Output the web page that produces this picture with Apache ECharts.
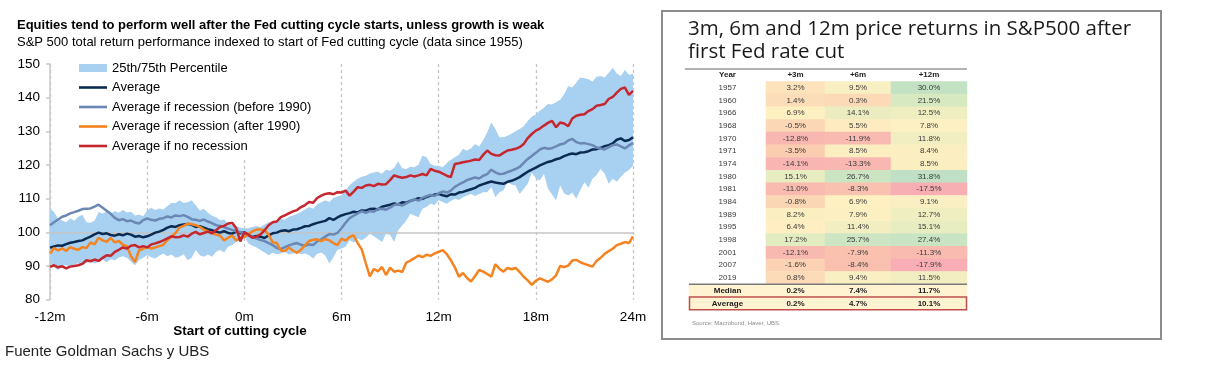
<!DOCTYPE html>
<html><head><meta charset="utf-8">
<script src="https://cdn.jsdelivr.net/npm/echarts@6/dist/echarts.min.js"></script>
<style>html,body{margin:0;padding:0;background:#fff}#c{width:1212px;height:370px}</style>
</head><body><div id="c"></div>
<script>
// ---------- Left chart data ----------
const MONTH_START = -12, MONTH_END = 24, MONTH_STEP = 0.25;
const X_TICKS = [-12, -6, 0, 6, 12, 18, 24];
const Y_MIN = 80, Y_MAX = 150, Y_STEP = 10;
const BASELINE = 100;

const BAND_LOW = [
 91.2,89.7,88.8,89.9, 90.3,89.5,90.4,90.8, 90.3,90.9,91.4,90.7, 91.2,91.9,91.1,92.0,
 91.7,92.5,92.9,92.4, 91.3,90.2,91.8,92.4, 93.2,92.6,92.2,93.0, 93.7,92.9,93.4,92.4,
 92.7,93.5,91.7,92.4, 94.7,93.2,92.7,93.4, 92.7,94.2,94.7,94.0, 95.7,96.2,97.1,97.6,
 98.8,96.7,96.0,95.5, 94.7,94.0,93.2,93.9, 93.5,93.7,94.2,93.4, 93.7,94.1,93.5,93.7,
 93.2,92.2,93.6,94.0, 93.1,90.7,92.6,94.7, 95.2,95.7,97.6,97.0, 98.1,97.6,98.4,99.6,
 98.8,98.0,97.1,99.6, 99.2,97.1,100.6,102.0, 103.5,105.5,105.0,104.5, 107.0,107.5,108.5,108.1,
 109.5,109.0,108.5,109.3, 110.0,109.6,110.4,110.9, 111.4,110.8,111.4,111.9, 111.9,113.4,110.4,111.9,
 112.4,114.9,114.2,113.9, 111.4,112.9,114.4,117.8, 116.0,115.4,117.4,112.9, 111.2,109.5,113.9,111.5,
 110.9,111.8,110.0,112.6, 114.9,113.2,115.9,117.0, 118.8,117.4,114.4,115.9, 115.0,116.5,117.8,118.5,
 119.8];
const BAND_HIGH = [
 107.0,106.0,104.0,103.5, 103.0,104.2,103.4,104.6, 105.2,103.0,102.8,103.4, 106.0,105.6,106.2,105.4,
 106.3,105.8,106.6,105.9, 106.1,105.0,105.3,104.8, 106.5,107.3,106.6,107.1, 106.8,107.8,108.8,108.6,
 109.5,108.7,108.9,109.5, 108.0,106.5,107.0,105.8, 104.9,104.5,103.6,103.8, 102.6,102.2,101.8,101.4,
 101.1,101.3,101.6,101.9, 101.6,102.3,103.0,102.8, 103.5,104.0,103.7,104.6, 105.0,105.4,106.0,106.8,
 107.5,107.0,108.3,108.9, 109.5,109.0,110.2,110.6, 111.0,112.5,114.0,115.0, 115.9,116.5,116.8,117.5,
 117.8,118.0,117.4,118.6, 118.3,119.2,121.0,119.0, 118.8,119.5,119.3,120.1, 122.8,122.3,120.3,119.8,
 119.8,119.3,120.6,121.5, 122.3,123.0,124.8,124.2, 125.0,126.2,125.5,127.4, 129.7,132.6,130.7,128.2,
 128.2,128.7,129.3,130.0, 130.7,131.5,133.1,134.3, 135.0,136.1,137.0,138.1, 138.0,138.6,139.4,141.0,
 143.5,143.0,144.5,146.0, 145.8,145.5,144.8,146.2, 146.4,146.0,147.4,148.9, 147.2,146.4,148.2,146.8,
 147.0];
const AVERAGE_ALL = [
 95.4,95.8,96.1,96.0, 96.5,96.9,97.1,97.4, 97.6,98.2,98.7,99.4, 99.9,99.5,99.7,99.2,
 99.0,99.4,99.1,99.6, 99.3,98.7,98.9,98.5, 98.8,99.3,99.9,100.2, 100.7,101.4,101.8,101.6,
 102.1,102.3,102.5,102.2, 101.6,101.8,101.4,100.9, 100.6,100.2,99.9,100.3, 99.8,99.6,100.2,99.7,
 100.0,99.2,98.6,98.9, 98.7,98.3,99.1,99.7, 99.9,100.4,100.6,100.3, 100.8,100.9,101.3,101.8,
 101.9,102.4,102.8,103.1, 103.4,104.2,103.7,104.4, 105.0,105.4,105.7,106.1, 105.9,106.5,106.4,106.9,
 107.0,106.8,107.6,107.9, 108.2,108.6,108.3,108.9, 108.8,109.3,109.7,110.1, 109.9,110.5,110.9,111.2,
 111.4,111.0,110.7,111.3, 111.2,111.8,112.0,112.4, 112.8,113.2,113.9,114.3, 114.7,115.1,114.8,114.6,
 114.4,115.0,115.3,115.8, 116.4,117.2,118.0,118.6, 119.2,119.9,120.4,120.9, 121.2,121.7,122.0,122.6,
 123.1,123.4,123.2,123.7, 123.8,124.1,124.6,124.7, 125.1,125.6,125.9,126.4, 127.5,127.9,127.1,127.4,
 128.2];
const REC_BEFORE_1990 = [
 102.1,103.0,103.8,104.6, 105.0,105.6,106.0,106.4, 106.9,107.0,107.1,107.6, 108.2,107.3,106.4,105.5,
 104.3,103.6,103.9,103.3, 103.5,102.9,102.6,103.6, 104.1,103.7,103.5,104.0, 104.2,104.7,104.4,105.0,
 104.8,105.1,104.6,103.9, 103.7,103.4,103.8,103.2, 102.7,102.1,101.9,101.5, 101.1,100.7,100.3,100.0,
 99.8,99.1,98.6,98.1, 97.7,97.4,96.8,96.2, 95.3,95.0,95.6,96.1, 96.5,96.8,96.3,96.0,
 96.4,96.2,97.3,97.9, 98.7,99.5,99.3,99.8, 101.2,102.8,104.2,104.9, 105.6,106.2,105.8,106.3,
 106.1,106.9,107.0,106.7, 107.3,108.1,108.4,107.9, 108.6,109.3,109.8,109.4, 110.2,110.7,111.1,110.8,
 111.6,112.1,111.8,112.4, 113.5,114.2,114.8,115.5, 115.9,116.3,116.0,116.8, 117.3,118.6,117.8,117.3,
 117.4,117.9,118.3,118.8, 119.4,120.6,121.8,122.7, 123.6,124.6,125.1,124.8, 125.0,125.5,126.1,126.4,
 127.3,127.7,126.8,126.4, 126.5,126.2,125.9,125.2, 124.9,124.6,125.3,125.9, 126.1,125.5,124.9,125.8,
 126.5];
const REC_AFTER_1990 = [
 93.7,95.3,94.6,95.2, 94.5,95.6,95.1,94.8, 95.6,95.3,97.0,96.4, 98.4,97.6,97.2,98.3,
 97.0,97.4,96.3,95.9, 92.9,91.2,94.6,95.1, 95.6,95.2,95.5,95.9, 96.3,97.7,98.6,99.8,
 101.4,101.9,102.6,102.4, 102.1,101.6,100.8,100.3, 99.7,99.3,99.0,97.6, 98.4,99.0,97.6,98.3,
 98.6,99.4,100.3,100.8, 100.8,100.6,99.3,97.0, 96.8,94.6,94.4,95.5, 94.6,93.9,94.8,96.2,
 97.4,97.8,97.9,97.4, 98.0,97.6,96.8,96.2, 98.1,97.5,98.6,99.1, 96.8,94.9,90.8,86.9,
 89.1,88.4,89.7,87.3, 89.5,88.3,88.6,88.2, 91.0,91.6,92.3,93.1, 92.6,93.3,93.0,93.7,
 94.2,94.7,93.5,91.7, 89.6,86.8,87.9,86.4, 85.4,87.0,88.8,88.3, 87.6,86.8,90.5,89.2,
 88.3,89.4,89.0,89.4, 88.2,86.8,85.7,84.4, 85.6,86.3,85.8,85.3, 86.0,87.2,90.0,89.7,
 90.1,91.6,91.8,91.1, 90.6,90.2,89.8,91.5, 92.4,93.6,94.4,95.1, 96.2,96.6,97.1,96.8,
 98.8];
const NO_RECESSION = [
 89.7,90.2,89.6,89.9, 89.3,89.8,90.0,90.2, 90.6,91.7,91.4,91.9, 91.5,92.4,93.2,93.0,
 94.2,94.8,95.5,95.2, 96.0,96.2,95.5,95.9, 95.5,96.4,96.7,97.1, 97.6,98.2,98.8,98.5,
 98.6,99.1,98.7,99.6, 100.1,99.4,99.8,100.2, 99.7,100.6,101.6,101.9, 102.6,102.8,101.2,97.3,
 100.0,99.3,98.4,98.7, 99.4,100.6,102.1,103.0, 103.2,104.5,105.0,105.6, 106.2,106.6,107.5,108.1,
 109.0,108.8,110.2,110.9, 111.4,111.6,111.3,111.9, 111.8,112.4,110.9,112.1, 113.4,113.2,113.9,114.1,
 113.7,114.4,114.2,114.3, 115.5,116.9,116.5,116.2, 116.4,116.9,116.6,116.9, 117.3,116.9,118.8,118.3,
 118.0,117.4,116.8,116.4, 120.3,120.5,120.8,121.0, 121.3,121.6,121.5,123.0, 124.3,123.3,122.9,122.8,
 123.6,124.3,124.5,124.8, 125.3,126.2,128.0,129.2, 130.2,130.8,131.7,132.5, 133.1,131.2,132.6,132.3,
 131.5,133.8,134.6,134.9, 135.1,136.0,136.6,137.6, 137.8,138.1,139.6,140.2, 141.5,142.6,143.0,140.8,
 142.0];

const SERIES_NAMES = ['25th/75th Percentile','Average','Average if recession (before 1990)','Average if recession (after 1990)','Average if no recession'];
const SERIES_COLORS = ['#a8d0f0','#0c2b52','#6b87b4','#f5831f','#c6262d'];

// ---------- Table data ----------
const YEARS = [1957,1960,1966,1968,1970,1971,1974,1980,1981,1984,1989,1995,1998,2001,2007,2019];
const RET_3M  = [3.2,1.4,6.9,-0.5,-12.8,-3.5,-14.1,15.1,-11.0,-0.8,8.2,6.4,17.2,-12.1,-1.6,0.8];
const RET_6M  = [9.5,0.3,14.1,5.5,-11.9,8.5,-13.3,26.7,-8.3,6.9,7.9,11.4,25.7,-7.9,-8.4,9.4];
const RET_12M = [30.0,21.5,12.5,7.8,11.8,8.4,8.5,31.8,-17.5,9.1,12.7,15.1,27.4,-11.3,-17.9,11.5];
const MEDIAN_ROW  = [0.2,7.4,11.7];
const AVERAGE_ROW = [0.2,4.7,10.1];
const COLUMN_HEADERS = ['Year','+3m','+6m','+12m'];
const SUMMARY_LABELS = ['Median','Average'];

// ---------- build ----------
const months = [];
for (let m = MONTH_START; m <= MONTH_END + 1e-9; m += MONTH_STEP) months.push(String(Math.round(m*100)/100));
const isTick = (v) => X_TICKS.indexOf(Number(v)) >= 0;
const bandDiff = BAND_HIGH.map((v,i) => +(v - BAND_LOW[i]).toFixed(2));

const FONT = '"Liberation Sans", Arial, sans-serif';
const lineSeries = (name, data, color) => ({
  name, type:'line', data, symbol:'none', showSymbol:false, smooth:false,
  lineStyle:{color, width:2.5}, itemStyle:{color}, z:5, silent:true
});

const series = [
  {name:'band-low', type:'line', data:BAND_LOW, stack:'band', symbol:'none', showSymbol:false,
   lineStyle:{opacity:0}, silent:true, z:2},
  {name:SERIES_NAMES[0], type:'line', data:bandDiff, stack:'band', symbol:'none', showSymbol:false,
   lineStyle:{opacity:0}, areaStyle:{color:SERIES_COLORS[0], opacity:1}, itemStyle:{color:SERIES_COLORS[0]}, silent:true, z:2,
   markLine:{silent:true, symbol:'none', label:{show:false}, lineStyle:{color:'#c4c4c4', width:1.6, type:'solid'},
     data:[{yAxis:BASELINE}]}},
  lineSeries(SERIES_NAMES[1], AVERAGE_ALL, SERIES_COLORS[1]),
  lineSeries(SERIES_NAMES[2], REC_BEFORE_1990, SERIES_COLORS[2]),
  lineSeries(SERIES_NAMES[3], REC_AFTER_1990, SERIES_COLORS[3]),
  lineSeries(SERIES_NAMES[4], NO_RECESSION, SERIES_COLORS[4])
];

// table grids
const rowLabels = YEARS.map(String).concat(SUMMARY_LABELS);
const TBL_TOP = 81.4, ROW_H = 12.68, TBL_H = ROW_H * rowLabels.length;
const COLS = [{left:689, width:77},{left:766, width:59},{left:825, width:66},{left:891, width:76}];
const grids = [{left:50, top:64, width:583, height:235.6, outerBoundsMode:'none'}];
const xAxes = [{
  type:'category', data:months, boundaryGap:false, gridIndex:0,
  axisLine:{show:false}, axisTick:{show:false},
  axisLabel:{interval:(i,v)=>isTick(v), formatter:(v)=> isTick(v) ? v + 'm' : '', color:'#000', fontSize:13.5, fontFamily:FONT, margin:11},
  splitLine:{show:true, interval:(i,v)=>isTick(v), lineStyle:{color:'#c4c4c4', type:[3,3], width:1.3}}
}];
const yAxes = [{
  type:'value', min:Y_MIN, max:Y_MAX, interval:Y_STEP, gridIndex:0,
  axisLine:{show:true, lineStyle:{color:'#c8c8c8', width:1.5}},
  axisTick:{show:true, length:4, lineStyle:{color:'#c8c8c8', width:1.5}},
  axisLabel:{color:'#000', fontSize:13.5, fontFamily:FONT, margin:10},
  splitLine:{show:false}
}];
const valueCols = [RET_3M, RET_6M, RET_12M];
const heatIdx = [];
COLS.forEach((c, k) => {
  const gi = grids.length;
  grids.push({left:c.left, top:TBL_TOP, width:c.width, height:TBL_H, outerBoundsMode:'none'});
  xAxes.push({type:'category', gridIndex:gi, data:[COLUMN_HEADERS[k]], position:'top',
    axisLine:{show:false}, axisTick:{show:false}, splitLine:{show:false},
    axisLabel:{color:'#222', fontSize:8, fontWeight:'bold', fontFamily:FONT, margin:3}});
  yAxes.push({type:'category', gridIndex:gi, data:rowLabels, inverse:true, show:false});
  const cellLabel = {show:true, color:'#3a3a3a', fontSize:8, fontFamily:FONT};
  if (k === 0) {
    series.push({type:'heatmap', xAxisIndex:gi, yAxisIndex:gi, silent:true,
      data: YEARS.map((y,i)=>[0,i,0]), itemStyle:{color:'#ffffff'},
      label:Object.assign({}, cellLabel, {formatter:(p)=>rowLabels[p.value[1]]})});
    series.push({type:'heatmap', xAxisIndex:gi, yAxisIndex:gi, silent:true,
      data: SUMMARY_LABELS.map((s,i)=>[0,YEARS.length+i,0]), itemStyle:{color:'#fff3d2'},
      label:Object.assign({}, cellLabel, {fontWeight:'bold', color:'#222', formatter:(p)=>rowLabels[p.value[1]]})});
  } else {
    const vals = valueCols[k-1];
    heatIdx.push(series.length);
    series.push({type:'heatmap', xAxisIndex:gi, yAxisIndex:gi, silent:true,
      data: vals.map((v,i)=>[0,i,v]),
      label:Object.assign({}, cellLabel, {formatter:(p)=>p.value[2].toFixed(1)+'%'})});
    series.push({type:'heatmap', xAxisIndex:gi, yAxisIndex:gi, silent:true,
      data: [[0,YEARS.length,MEDIAN_ROW[k-1]],[0,YEARS.length+1,AVERAGE_ROW[k-1]]], itemStyle:{color:'#fff3d2'},
      label:Object.assign({}, cellLabel, {fontWeight:'bold', color:'#222', formatter:(p)=>p.value[2].toFixed(1)+'%'})});
  }
});
const allVals = RET_3M.concat(RET_6M, RET_12M);

const txt = (x, y, text, font, fill, align) => ({type:'text', x, y, z:100, silent:true,
  style:{text, font, fill, align:align||'left', verticalAlign:'middle'}});

const LINE_ICON = 'path://M0,0H28V2.6H0Z';
const BAND_ICON = 'path://M0,0H28V8H0Z';

const option = {
  animation:false,
  backgroundColor:'#ffffff',
  grid:grids, xAxis:xAxes, yAxis:yAxes, series,
  legend:{
    orient:'vertical', left:71, top:55, backgroundColor:'#ffffff', padding:[6,8,6,8],
    itemWidth:28, itemHeight:14, itemGap:5.5, selectedMode:false, symbolKeepAspect:true,
    textStyle:{color:'#000', fontSize:13, fontFamily:FONT, lineHeight:14},
    data: SERIES_NAMES.map((n,i)=>({name:n, icon: i===0 ? BAND_ICON : LINE_ICON,
      itemStyle:{color:SERIES_COLORS[i], borderWidth:0}, lineStyle:{opacity:0}}))
  },
  visualMap:{type:'continuous', show:false, seriesIndex:heatIdx, dimension:2,
    min:Math.min.apply(null, allVals), max:Math.max.apply(null, allVals),
    inRange:{color:['#f8aeb4','#f9c6ad','#fff0c2','#dcebc0','#bfe0c4']}},
  graphic:[
    txt(17, 25, 'Equities tend to perform well after the Fed cutting cycle starts, unless growth is weak', 'bold 13px ' + FONT, '#000'),
    txt(17, 42.5, 'S&P 500 total return performance indexed to start of Fed cutting cycle (data since 1955)', '13px ' + FONT, '#000'),
    txt(240, 331.5, 'Start of cutting cycle', 'bold 13.5px ' + FONT, '#000', 'center'),
    txt(5, 352, 'Fuente Goldman Sachs y UBS', '15px ' + FONT, '#222'),
    {type:'rect', z:100, silent:true, shape:{x:662, y:11, width:499, height:328}, style:{fill:'none', stroke:'#8c8c8c', lineWidth:2}},
    txt(688, 29.5, '3m, 6m and 12m price returns in S&P500 after', '20.5px "Open Sans", "Noto Sans", sans-serif', '#1a1a1a'),
    txt(688, 52.5, 'first Fed rate cut', '20.5px "Open Sans", "Noto Sans", sans-serif', '#1a1a1a'),
    {type:'line', z:100, silent:true, shape:{x1:685, y1:69, x2:967, y2:69}, style:{stroke:'#9a9a9a', lineWidth:1.5}},
    {type:'line', z:100, silent:true, shape:{x1:689, y1:TBL_TOP+ROW_H*YEARS.length, x2:967, y2:TBL_TOP+ROW_H*YEARS.length}, style:{stroke:'#7a7a7a', lineWidth:1.5}},
    {type:'rect', z:100, silent:true, shape:{x:689.5, y:TBL_TOP+ROW_H*(YEARS.length+1), width:277, height:ROW_H}, style:{fill:'none', stroke:'#c0504d', lineWidth:1.5}},
    txt(692, 323, 'Source: Macrobond, Haver, UBS.', '6px ' + FONT, '#8a8a8a')
  ]
};
const chart = echarts.init(document.getElementById('c'), null, {renderer:'canvas'});
chart.setOption(option);
</script>
</body></html>
